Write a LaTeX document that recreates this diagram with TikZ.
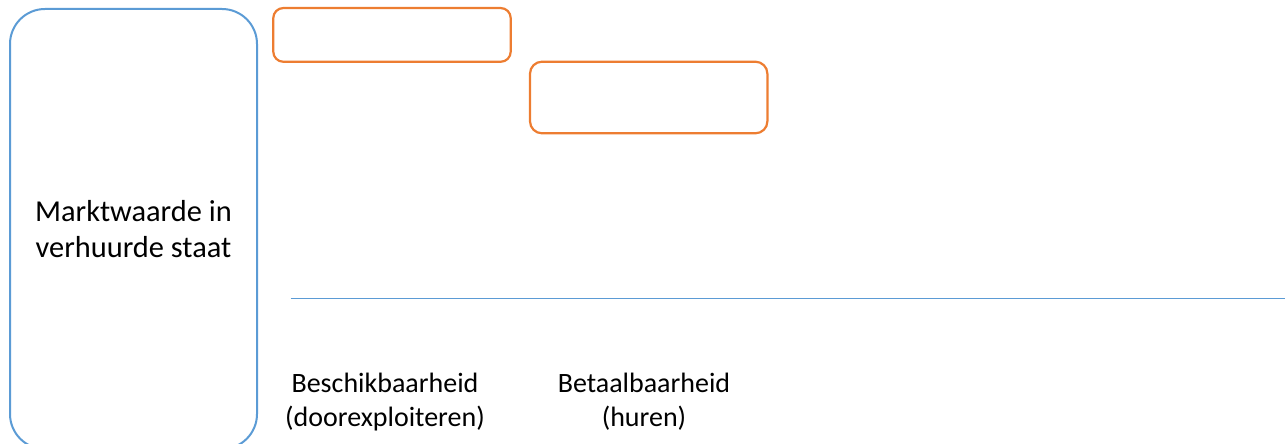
\documentclass[tikz,border=0pt]{standalone}
\usepackage{fontspec}
\setmainfont{Carlito}
\definecolor{offblue}{HTML}{5B9BD5}
\definecolor{offorange}{HTML}{ED7D31}
\begin{document}
\begin{tikzpicture}[x=0.5pt,y=-0.5pt,
  bigbox/.style={draw=offblue,line width=1pt,rounded corners=17.5pt,inner sep=0pt,
    minimum width=123.5pt,minimum height=220pt,align=center,font=\fontsize{15.2}{18}\selectfont},
  orangebox/.style={draw=offorange,line width=1.1pt,inner sep=0pt,minimum width=118.7pt},
  lbl/.style={align=center,inner sep=0pt,font=\fontsize{14}{17.2}\selectfont},
  divider/.style={draw=offblue,line width=0.7pt}]
\useasboundingbox (0,0) rectangle (1285,444);
\clip (0,0) rectangle (1285,444);
\node[bigbox] (mw) at (133.5,229) {Marktwaarde in\\verhuurde staat};
\node[orangebox,rounded corners=5pt,minimum height=26.85pt] (o1) at (392,34.9) {};
\node[orangebox,rounded corners=6pt,minimum height=35.8pt] (o2) at (648.7,97.5) {};
\coordinate (ls) at (290.7,298.5);
\coordinate (le) at (1285,298.5);
\draw[divider] (ls) -- (le);
\node[lbl] (besch) at (385,402) {Beschikbaarheid\\(doorexploiteren)};
\node[lbl] (betaal) at (644,402) {Betaalbaarheid\\(huren)};
\end{tikzpicture}
\end{document}
